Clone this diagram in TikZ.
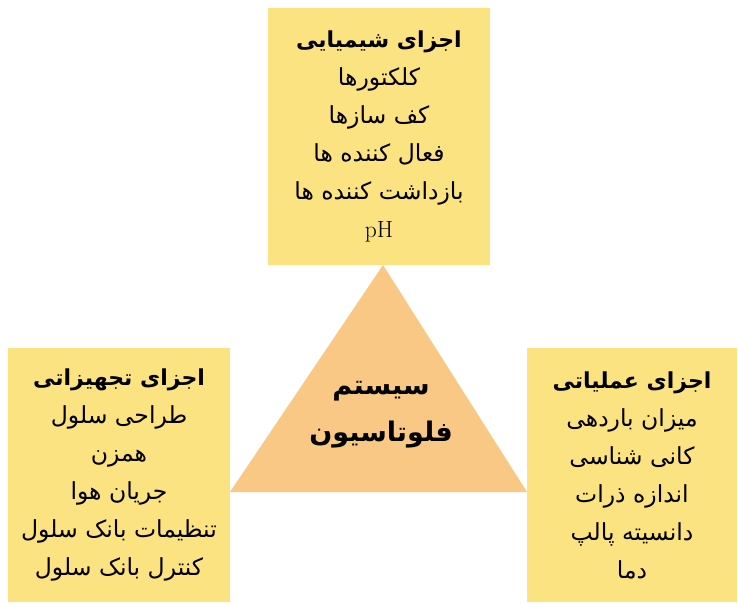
\documentclass[tikz,border=0pt]{standalone}
\usepackage{fontspec}
\newfontfamily\farsi[Script=Arabic]{DejaVu Sans}
\TeXXeTstate=1
\newcommand{\fa}[1]{{\farsi\beginR #1\endR}}
\newcommand{\fatitle}[1]{{\farsi\bfseries\fontsize{22}{38}\selectfont\beginR #1\endR}}
\usepackage{tikz}
\usetikzlibrary{positioning}
\definecolor{boxyellow}{HTML}{FCE382}
\definecolor{triorange}{HTML}{F8C884}
\tikzstyle{part}=[rectangle, fill=boxyellow, align=center, inner sep=0pt, font=\fontsize{23.5}{38}\selectfont]

\begin{document}
\begin{tikzpicture}[x=1pt,y=-1pt]
\useasboundingbox (0,0) rectangle (738,603);
\coordinate (apex) at (383,265);
\coordinate (bl) at (230,492);
\coordinate (br) at (527,492);
\fill[triorange] (apex) -- (br) -- (bl) -- cycle;
\node (chem) at (379,136.5)[part,minimum width=222pt,minimum height=257pt] {\fatitle{اجزای شیمیایی}\\ \fa{کلکتورها}\\ \fa{کف سازها}\\ \fa{فعال کننده ها}\\ \fa{بازداشت کننده ها}\\ pH};
\node (equip) at (119,475)[part,minimum width=222pt,minimum height=254pt] {\fatitle{اجزای تجهیزاتی}\\ \fa{طراحی سلول}\\ \fa{همزن}\\ \fa{جریان هوا}\\ \fa{تنظیمات بانک سلول}\\ \fa{کنترل بانک سلول}};
\node (oper) at (632,475)[part,minimum width=210pt,minimum height=254pt] {\fatitle{اجزای عملیاتی}\\ \fa{میزان باردهی}\\ \fa{کانی شناسی}\\ \fa{اندازه ذرات}\\ \fa{دانسیته پالپ}\\ \fa{دما}};
\node (flot) at (381,415)[align=center,font=\fontsize{27}{47}\selectfont\bfseries] {\fa{سیستم}\\ \fa{فلوتاسیون}};
\end{tikzpicture}
\end{document}
